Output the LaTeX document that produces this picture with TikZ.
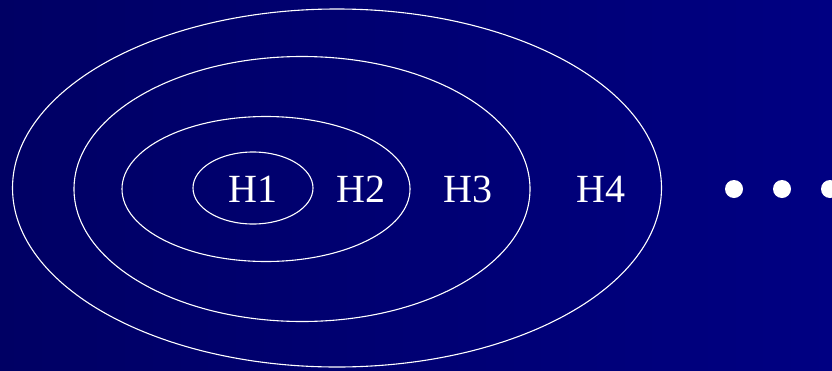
\documentclass[tikz,border=0pt]{standalone}
\usepackage{fontspec}
\setmainfont{Liberation Serif}
\usetikzlibrary{shapes.geometric}

\definecolor{navyleft}{RGB}{0,0,100}
\definecolor{navyright}{RGB}{0,0,130}

\begin{document}
\begin{tikzpicture}[
x=1pt, y=-1pt,
ring/.style={draw=white, ellipse, line width=1.1pt, inner sep=0pt},
hlabel/.style={text=white, font=\fontsize{40}{40}\selectfont, inner sep=0pt},
dot/.style={circle, fill=white, minimum size=18pt, inner sep=0pt} ]

\shade[left color=navyleft, right color=navyright] (0,0) rectangle (832,370);
\useasboundingbox (0,0) rectangle (832,370);

\node[ring, minimum width=120pt, minimum height=72pt] (E1) at (253,188) {};

\node[ring, minimum width=288pt, minimum height=145pt] (E2) at (266,189) {};

\node[ring, minimum width=456pt, minimum height=265pt] (E3) at (302,189) {};

\node[ring, minimum width=649pt, minimum height=358pt] (E4) at (337,188) {};

\node[hlabel] (H1) at (253,189) {H1};

\node[hlabel] (H2) at (361,189) {H2};

\node[hlabel] (H3) at (468,189) {H3};

\node[hlabel] (H4) at (601,189) {H4};

\node[dot] (D1) at (734,189) {};

\node[dot] (D2) at (782,189) {};

\node[dot] (D3) at (830,189) {};

\end{tikzpicture}
\end{document}
